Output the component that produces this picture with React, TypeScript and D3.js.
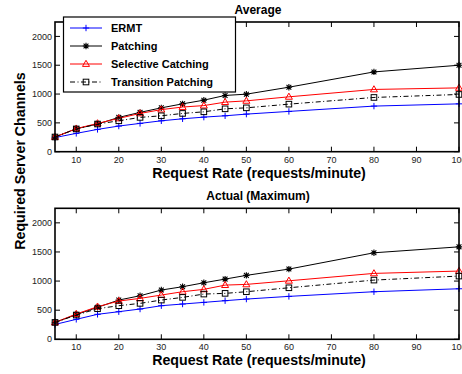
import React from "react";
import * as d3 from "d3";

const rates = [5, 10, 15, 20, 25, 30, 35, 40, 45, 50, 60, 80, 100];
const xTicks = [10, 20, 30, 40, 50, 60, 70, 80, 90, 100];
const yTicks = [0, 500, 1000, 1500, 2000];

const avgERMT = [245, 318, 387, 445, 491, 536, 571, 600, 623, 652, 699, 791, 830];
const avgPatching = [255, 398, 479, 595, 682, 761, 830, 894, 976, 998, 1119, 1384, 1500];
const avgSelective = [255, 400, 491, 578, 664, 730, 775, 800, 860, 882, 952, 1080, 1107];
const avgTransition = [255, 395, 480, 536, 595, 623, 664, 692, 744, 761, 825, 941, 993];

const maxERMT = [255, 343, 429, 474, 520, 577, 606, 634, 663, 691, 737, 817, 868];
const maxPatching = [290, 425, 549, 674, 748, 846, 903, 971, 1034, 1098, 1206, 1486, 1588];
const maxSelective = [290, 435, 560, 657, 703, 760, 817, 858, 931, 943, 1005, 1132, 1172];
const maxTransition = [290, 417, 525, 577, 617, 674, 720, 777, 789, 817, 885, 1017, 1086];

const seriesNames = ["ERMT", "Patching", "Selective Catching", "Transition Patching"];
const seriesColors = ["#0000ff", "#000000", "#ff0000", "#000000"];
const seriesMarkers = ["plus", "star", "triangle", "square"];
const seriesDash = [null, null, null, "5,2.5,1,2.5"];

const FONT = "'Liberation Sans', Arial, Helvetica, sans-serif";

function Marker({ type, x, y, color }: { type: string; x: number; y: number; color: string }) {
  const s = 3.2;
  if (type === "plus") {
    return (
      <path d={`M${x - s},${y}H${x + s}M${x},${y - s}V${y + s}`} stroke={color} strokeWidth={1} fill="none" />
    );
  }
  if (type === "star") {
    const a = s * 0.75;
    return (
      <path
        d={`M${x - s},${y}H${x + s}M${x},${y - s}V${y + s}M${x - a},${y - a}L${x + a},${y + a}M${x - a},${y + a}L${x + a},${y - a}`}
        stroke={color}
        strokeWidth={1.1}
        fill="none"
      />
    );
  }
  if (type === "triangle") {
    const r = 3.7;
    return (
      <path
        d={`M${x},${y - r}L${x + r * 0.95},${y + r * 0.65}L${x - r * 0.95},${y + r * 0.65}Z`}
        stroke={color}
        strokeWidth={1}
        fill="none"
      />
    );
  }
  const h = 2.8;
  return <rect x={x - h} y={y - h} width={2 * h} height={2 * h} stroke={color} strokeWidth={1} fill="none" />;
}

type PanelProps = {
  top: number;
  bottom: number;
  title: string;
  data: number[][];
  legend?: boolean;
};

const LEFT = 55;
const RIGHT = 459;

function Panel({ top, bottom, title, data, legend }: PanelProps) {
  const x = d3.scaleLinear().domain([5, 100]).range([LEFT, RIGHT]);
  const y = d3.scaleLinear().domain([0, 2250]).range([bottom, top]);
  const tl = 5;
  return (
    <g>
      <text x={258} y={top - 8} textAnchor="middle" fontFamily={FONT} fontWeight="bold" fontSize={12}>
        {title}
      </text>
      {data.map((vals, i) => {
        const pts: [number, number][] = rates.map((r, j) => [x(r), y(vals[j])]);
        const line = d3.line()(pts) || "";
        return (
          <g key={i}>
            <path
              d={line}
              stroke={seriesColors[i]}
              strokeWidth={1}
              fill="none"
              strokeDasharray={seriesDash[i] || undefined}
            />
            {pts.map((p, j) => (
              <Marker key={j} type={seriesMarkers[i]} x={p[0]} y={p[1]} color={seriesColors[i]} />
            ))}
          </g>
        );
      })}
      {xTicks.map((t) => (
        <g key={t}>
          <line x1={x(t)} x2={x(t)} y1={bottom} y2={bottom - tl} stroke="#000" strokeWidth={1} />
          <line x1={x(t)} x2={x(t)} y1={top} y2={top + tl} stroke="#000" strokeWidth={1} />
          <text x={x(t)} y={bottom + 11} textAnchor="middle" fontFamily={FONT} fontSize={9} fill="#222">
            {t}
          </text>
        </g>
      ))}
      {yTicks.map((t) => (
        <g key={t}>
          <line x1={LEFT} x2={LEFT + tl} y1={y(t)} y2={y(t)} stroke="#000" strokeWidth={1} />
          <line x1={RIGHT} x2={RIGHT - tl} y1={y(t)} y2={y(t)} stroke="#000" strokeWidth={1} />
          <text x={52} y={y(t)} dy="0.35em" textAnchor="end" fontFamily={FONT} fontSize={9} fill="#222">
            {t}
          </text>
        </g>
      ))}
      <rect x={LEFT} y={top} width={RIGHT - LEFT} height={bottom - top} fill="none" stroke="#000" strokeWidth={1.6} />
      <text
        x={259}
        y={bottom + 26}
        textAnchor="middle"
        fontFamily={FONT}
        fontWeight="bold"
        fontSize={14.2}
      >
        Request Rate (requests/minute)
      </text>
      {legend && (
        <g>
          <rect x={63.5} y={17} width={172} height={75} fill="#fff" stroke="#000" strokeWidth={1.2} />
          {seriesNames.map((n, i) => {
            const ly = 28 + i * 18;
            return (
              <g key={n}>
                <line
                  x1={70}
                  x2={102}
                  y1={ly}
                  y2={ly}
                  stroke={seriesColors[i]}
                  strokeWidth={1}
                  strokeDasharray={seriesDash[i] || undefined}
                />
                <Marker type={seriesMarkers[i]} x={86} y={ly} color={seriesColors[i]} />
                <text x={111} y={ly} dy="0.36em" fontFamily={FONT} fontWeight="bold" fontSize={11}>
                  {n}
                </text>
              </g>
            );
          })}
        </g>
      )}
    </g>
  );
}

export default function App() {
  return (
    <svg
      width={462}
      height={374}
      style={{ position: "absolute", left: 0, top: 0, background: "#fff" }}
    >
      <rect x={0} y={0} width={462} height={374} fill="#fff" />
      <Panel
        top={22}
        bottom={151.7}
        title="Average"
        data={[avgERMT, avgPatching, avgSelective, avgTransition]}
        legend
      />
      <Panel
        top={208.3}
        bottom={339.3}
        title="Actual (Maximum)"
        data={[maxERMT, maxPatching, maxSelective, maxTransition]}
      />
      <text
        transform="translate(25,161) rotate(-90)"
        textAnchor="middle"
        fontFamily={FONT}
        fontWeight="bold"
        fontSize={14.2}
      >
        Required Server Channels
      </text>
    </svg>
  );
}
